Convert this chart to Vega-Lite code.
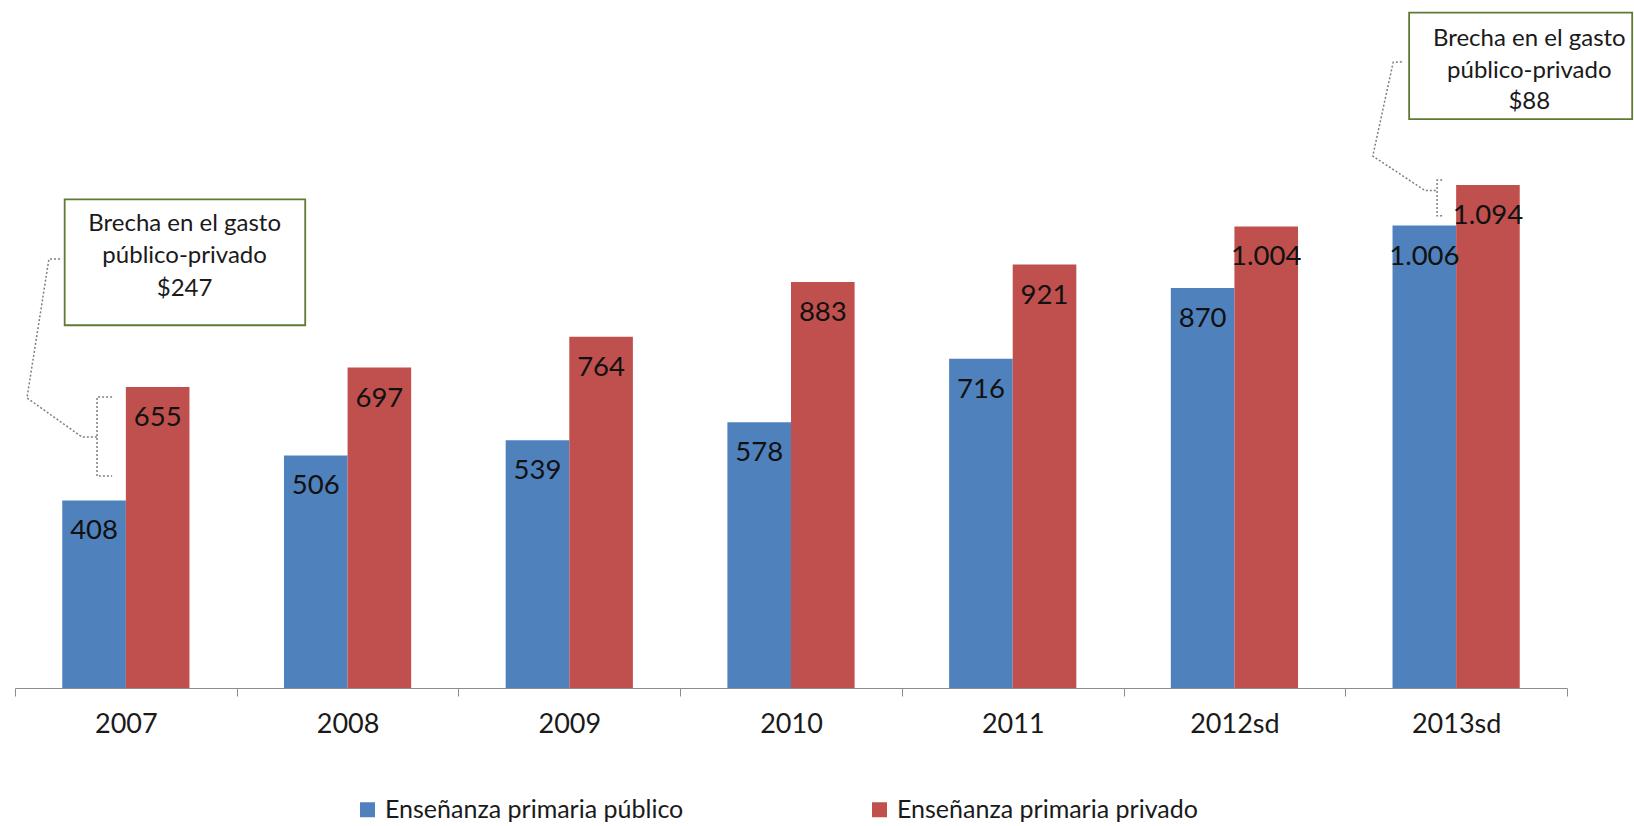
{
  "$schema": "https://vega.github.io/schema/vega-lite/v6.json",
  "width": 1552,
  "height": 685,
  "autosize": {"type": "none"},
  "padding": {"left": 15, "top": 3, "right": 67, "bottom": 138},
  "background": "white",
  "config": {
    "view": {"stroke": null},
    "font": "Lato",
    "locale": {"number": {"decimal": ",", "thousands": ".", "grouping": [3], "currency": ["$", ""]}}
  },
  "datasets": {
    "gasto": [
      {"anio": "2007", "serie": "Enseñanza primaria público", "valor": 408},
      {"anio": "2007", "serie": "Enseñanza primaria privado", "valor": 655},
      {"anio": "2008", "serie": "Enseñanza primaria público", "valor": 506},
      {"anio": "2008", "serie": "Enseñanza primaria privado", "valor": 697},
      {"anio": "2009", "serie": "Enseñanza primaria público", "valor": 539},
      {"anio": "2009", "serie": "Enseñanza primaria privado", "valor": 764},
      {"anio": "2010", "serie": "Enseñanza primaria público", "valor": 578},
      {"anio": "2010", "serie": "Enseñanza primaria privado", "valor": 883},
      {"anio": "2011", "serie": "Enseñanza primaria público", "valor": 716},
      {"anio": "2011", "serie": "Enseñanza primaria privado", "valor": 921},
      {"anio": "2012sd", "serie": "Enseñanza primaria público", "valor": 870},
      {"anio": "2012sd", "serie": "Enseñanza primaria privado", "valor": 1004},
      {"anio": "2013sd", "serie": "Enseñanza primaria público", "valor": 1006},
      {"anio": "2013sd", "serie": "Enseñanza primaria privado", "valor": 1094}
    ],
    "cajas": [
      {"x": 0.224, "x2": 1.309, "y": 789, "y2": 1063},
      {"x": 6.288, "x2": 7.294, "y": 1237.5, "y2": 1469}
    ],
    "textos": [
      {"x": 0.765, "y": 1009, "t": "Brecha en el gasto"},
      {"x": 0.765, "y": 939, "t": "público-privado"},
      {"x": 0.765, "y": 868, "t": "$247"},
      {"x": 6.83, "y": 1412, "t": "Brecha en el gasto"},
      {"x": 6.83, "y": 1342, "t": "público-privado"},
      {"x": 6.83, "y": 1274, "t": "$88"}
    ],
    "lineas": [
      {"seg": "a", "ord": 1, "x": 0.203, "y": 933},
      {"seg": "a", "ord": 2, "x": 0.153, "y": 933},
      {"seg": "a", "ord": 3, "x": 0.054, "y": 631},
      {"seg": "a", "ord": 4, "x": 0.302, "y": 546},
      {"seg": "a", "ord": 5, "x": 0.370, "y": 546},
      {"seg": "b", "ord": 1, "x": 0.438, "y": 633},
      {"seg": "b", "ord": 2, "x": 0.370, "y": 633},
      {"seg": "b", "ord": 3, "x": 0.370, "y": 461},
      {"seg": "b", "ord": 4, "x": 0.438, "y": 461},
      {"seg": "c", "ord": 1, "x": 6.255, "y": 1362},
      {"seg": "c", "ord": 2, "x": 6.216, "y": 1361},
      {"seg": "c", "ord": 3, "x": 6.124, "y": 1157},
      {"seg": "c", "ord": 4, "x": 6.360, "y": 1082},
      {"seg": "c", "ord": 5, "x": 6.414, "y": 1082},
      {"seg": "d", "ord": 1, "x": 6.437, "y": 1105},
      {"seg": "d", "ord": 2, "x": 6.414, "y": 1105},
      {"seg": "d", "ord": 3, "x": 6.414, "y": 1027},
      {"seg": "d", "ord": 4, "x": 6.437, "y": 1027}
    ]
  },
  "resolve": {"scale": {"x": "independent"}},
  "layer": [
    {
      "data": {"name": "gasto"},
      "encoding": {
        "x": {
          "field": "anio", "type": "nominal",
          "sort": ["2007", "2008", "2009", "2010", "2011", "2012sd", "2013sd"],
          "scale": {"paddingInner": 0, "paddingOuter": 0},
          "axis": {
            "title": null, "labelAngle": 0, "tickBand": "extent", "grid": false,
            "domainColor": "#8c8c8c", "tickColor": "#8c8c8c", "tickSize": 8, "domainWidth": 1.2,
            "labelFontSize": 27, "labelColor": "#1a1a1a", "labelBaseline": "middle", "labelPadding": 28
          }
        },
        "xOffset": {
          "field": "serie", "type": "nominal",
          "sort": ["Enseñanza primaria público", "Enseñanza primaria privado"],
          "scale": {"paddingInner": 0, "paddingOuter": 0.743}
        },
        "y": {"field": "valor", "type": "quantitative", "scale": {"domain": [0, 1490], "nice": false}, "axis": null}
      },
      "layer": [
        {
          "mark": {"type": "bar"},
          "encoding": {
            "color": {
              "field": "serie", "type": "nominal",
              "sort": ["Enseñanza primaria público", "Enseñanza primaria privado"],
              "scale": {"domain": ["Enseñanza primaria público", "Enseñanza primaria privado"], "range": ["#4F81BD", "#C0504D"]},
              "legend": {
                "title": null, "orient": "none", "legendX": 340, "legendY": 794,
                "direction": "horizontal", "symbolType": "square", "symbolSize": 225,
                "symbolStrokeWidth": 0, "labelFontSize": 25, "labelColor": "#1a1a1a",
                "columnPadding": 183, "labelLimit": 600, "labelOffset": 5
              }
            }
          }
        },
        {
          "mark": {"type": "text", "dy": 31, "fontSize": 27.5, "color": "#111111", "baseline": "middle", "align": "center"},
          "encoding": {"text": {"field": "valor", "type": "quantitative", "format": ",d"}}
        }
      ]
    },
    {
      "layer": [
        {
          "data": {"name": "lineas"},
          "mark": {"type": "line", "color": "#7f7f7f", "strokeWidth": 1.5, "strokeDash": [2, 2]},
          "encoding": {
            "x": {"field": "x", "type": "quantitative", "scale": {"domain": [0, 7], "nice": false, "zero": false}, "axis": null},
            "y": {"field": "y", "type": "quantitative"},
            "detail": {"field": "seg"},
            "order": {"field": "ord", "type": "quantitative"}
          }
        },
        {
          "data": {"name": "cajas"},
          "mark": {"type": "rect", "fill": "white", "stroke": "#5E7A34", "strokeWidth": 1.8},
          "encoding": {
            "x": {"field": "x", "type": "quantitative", "scale": {"domain": [0, 7], "nice": false, "zero": false}, "axis": null},
            "x2": {"field": "x2"},
            "y": {"field": "y", "type": "quantitative"},
            "y2": {"field": "y2"}
          }
        },
        {
          "data": {"name": "textos"},
          "mark": {"type": "text", "fontSize": 24, "color": "#1a1a1a", "align": "center", "baseline": "middle"},
          "encoding": {
            "x": {"field": "x", "type": "quantitative", "scale": {"domain": [0, 7], "nice": false, "zero": false}, "axis": null},
            "y": {"field": "y", "type": "quantitative"},
            "text": {"field": "t"}
          }
        }
      ]
    }
  ]
}
